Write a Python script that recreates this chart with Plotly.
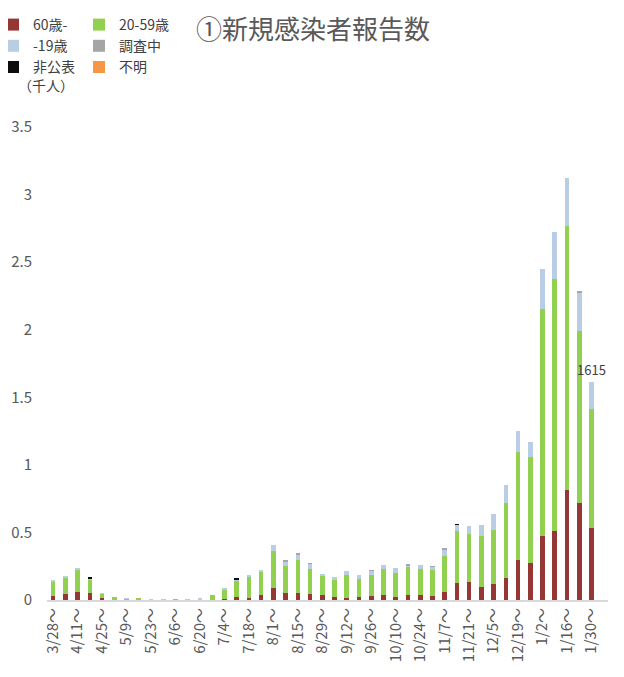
import plotly.graph_objects as go

weeks = ["3/28", "4/4", "4/11", "4/18", "4/25", "5/2", "5/9", "5/16", "5/23", "5/30",
         "6/6", "6/13", "6/20", "6/27", "7/4", "7/11", "7/18", "7/25", "8/1", "8/8",
         "8/15", "8/22", "8/29", "9/5", "9/12", "9/19", "9/26", "10/3", "10/10", "10/17",
         "10/24", "10/31", "11/7", "11/14", "11/21", "11/28", "12/5", "12/12", "12/19", "12/26",
         "1/2", "1/9", "1/16", "1/23", "1/30"]

# values in thousands of people
age_60_plus = [0.030, 0.042, 0.062, 0.054, 0.017, 0.002, 0.001, 0.001, 0.000, 0.000,
               0.001, 0.000, 0.001, 0.002, 0.008, 0.025, 0.017, 0.040, 0.092, 0.052,
               0.054, 0.047, 0.040, 0.025, 0.017, 0.025, 0.032, 0.040, 0.025, 0.040,
               0.040, 0.030, 0.062, 0.129, 0.134, 0.099, 0.121, 0.163, 0.297, 0.275,
               0.470, 0.512, 0.812, 0.720, 0.530]
age_20_59 = [0.105, 0.121, 0.161, 0.097, 0.028, 0.020, 0.007, 0.007, 0.001, 0.001,
             0.006, 0.001, 0.006, 0.038, 0.066, 0.116, 0.156, 0.168, 0.272, 0.198,
             0.240, 0.183, 0.136, 0.126, 0.168, 0.131, 0.153, 0.193, 0.176, 0.205,
             0.190, 0.193, 0.265, 0.384, 0.356, 0.374, 0.399, 0.554, 0.797, 0.780,
             1.686, 1.864, 1.953, 1.272, 0.887]
age_under_19 = [0.006, 0.015, 0.007, 0.005, 0.002, 0.000, 0.002, 0.000, 0.001, 0.001,
                0.000, 0.001, 0.005, 0.000, 0.008, 0.010, 0.015, 0.010, 0.040, 0.038,
                0.045, 0.038, 0.020, 0.022, 0.030, 0.030, 0.030, 0.027, 0.037, 0.008,
                0.030, 0.022, 0.050, 0.042, 0.057, 0.084, 0.119, 0.134, 0.153, 0.114,
                0.292, 0.349, 0.359, 0.287, 0.198]
under_investigation = [0, 0, 0, 0.004, 0, 0, 0, 0, 0, 0,
                       0, 0, 0, 0, 0, 0, 0, 0, 0, 0.003,
                       0.003, 0.003, 0, 0, 0, 0, 0.007, 0, 0, 0.007,
                       0, 0.005, 0.007, 0, 0, 0, 0, 0, 0, 0,
                       0, 0, 0, 0.007, 0]
undisclosed = [0, 0, 0, 0.004, 0, 0, 0, 0, 0, 0,
               0, 0, 0, 0, 0, 0.008, 0, 0, 0, 0,
               0, 0, 0, 0, 0, 0, 0, 0, 0, 0,
               0, 0, 0, 0.007, 0, 0, 0, 0, 0, 0,
               0, 0, 0, 0, 0]
unknown = [0] * 45

last_label = "1615"

cats = [w + "〜" for w in weeks]

series = [
    ("60歳-", age_60_plus, "#953735", "legend"),
    ("20-59歳", age_20_59, "#92D050", "legend2"),
    ("-19歳", age_under_19, "#B9CDE5", "legend"),
    ("調査中", under_investigation, "#A5A5A5", "legend2"),
    ("非公表", undisclosed, "#0D0D0D", "legend"),
    ("不明", unknown, "#F79646", "legend2"),
]

fig = go.Figure()
for name, vals, color, lg in series:
    fig.add_trace(go.Bar(x=cats, y=vals, name=name, marker_color=color,
                         marker_line_width=0, legend=lg))

totals = [sum(v) for v in zip(age_60_plus, age_20_59, age_under_19,
                              under_investigation, undisclosed, unknown)]

fig.add_annotation(x=cats[-1], y=totals[-1], text=last_label, showarrow=False,
                   yanchor="bottom", yshift=1, font=dict(size=13, color="#404040"))

# page offset of the figure div (browser body margin)
OFF = 8
W, H = 624, 677
L, T, PW, PH = 47 - OFF, 127 - OFF, 561, 473


def px_x(page_px):
    return (page_px - OFF - L) / PW


def px_y(page_py):
    return 1 + (T - (page_py - OFF)) / PH


font_family = "Noto Sans CJK JP"
legend_common = dict(font=dict(size=14, color="#404040", family=font_family),
                     bgcolor="rgba(0,0,0,0)", traceorder="normal",
                     xanchor="left", yanchor="top",
                     itemwidth=30, tracegroupgap=0, orientation="v")

fig.update_layout(
    width=W, height=H,
    barmode="stack", bargap=0.62,
    paper_bgcolor="white", plot_bgcolor="white",
    margin=dict(l=L, r=W - L - PW, t=T, b=H - T - PH, autoexpand=False),
    font=dict(family=font_family, color="#595959"),
    title=dict(text="①新規感染者報告数", x=(313 - OFF) / W, xanchor="center",
               y=1 - (30 - OFF) / H, yanchor="middle",
               font=dict(size=26, color="#595959", family=font_family)),
    legend=dict(x=px_x(-7), y=px_y(9), **legend_common),
    legend2=dict(x=px_x(79), y=px_y(9), **legend_common),
    xaxis=dict(type="category", categoryorder="array", categoryarray=cats,
               tickmode="array", tickvals=cats[::2], ticktext=cats[::2],
               tickangle=-90, tickfont=dict(size=15, color="#595959"),
               showline=True, linecolor="#D9D9D9", linewidth=2,
               showgrid=False, ticks="", zeroline=False),
    yaxis=dict(range=[0, 3.5], tick0=0, dtick=0.5, showgrid=False, zeroline=False,
               showline=False, ticks="", ticklabelstandoff=14,
               tickfont=dict(size=15, color="#595959")),
)

fig.add_annotation(text="（千人）", xref="paper", yref="paper",
                   x=px_x(16), xanchor="left",
                   y=px_y(85), yanchor="middle", showarrow=False,
                   font=dict(size=14, color="#404040", family=font_family))

fig.write_html("out.html")
